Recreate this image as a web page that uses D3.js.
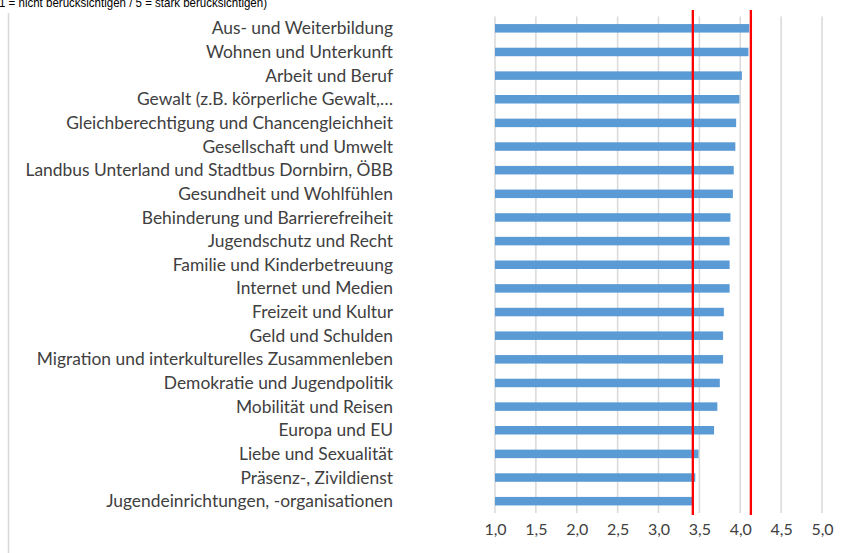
<!DOCTYPE html>
<html>
<head>
<meta charset="utf-8">
<script src="https://cdn.jsdelivr.net/npm/d3@7"></script>
<style>
  body { margin: 0; background: #fff; }
</style>
</head>
<body>
<svg id="chart" width="845" height="553"></svg>
<script>
const categories = [
  'Aus- und Weiterbildung',
  'Wohnen und Unterkunft',
  'Arbeit und Beruf',
  'Gewalt (z.B. körperliche Gewalt,…',
  'Gleichberechtigung und Chancengleichheit',
  'Gesellschaft und Umwelt',
  'Landbus Unterland und Stadtbus Dornbirn, ÖBB',
  'Gesundheit und Wohlfühlen',
  'Behinderung und Barrierefreiheit',
  'Jugendschutz und Recht',
  'Familie und Kinderbetreuung',
  'Internet und Medien',
  'Freizeit und Kultur',
  'Geld und Schulden',
  'Migration und interkulturelles Zusammenleben',
  'Demokratie und Jugendpolitik',
  'Mobilität und Reisen',
  'Europa und EU',
  'Liebe und Sexualität',
  'Präsenz-, Zivildienst',
  'Jugendeinrichtungen, -organisationen'
];
const values = [4.11, 4.10, 4.02, 3.99, 3.95, 3.94, 3.92, 3.91, 3.88, 3.87, 3.87, 3.87,
  3.80, 3.79, 3.79, 3.75, 3.72, 3.68, 3.49, 3.45, 3.41];
const refLines = [3.42, 4.13];
const ticks = [1.0, 1.5, 2.0, 2.5, 3.0, 3.5, 4.0, 4.5, 5.0];
const subtitle = '1 = nicht berücksichtigen / 5 = stark berücksichtigen)';

const svg = d3.select('#chart');
const margin = { top: 16.5, left: 495, right: 23, bottom: 40 };
const width = 845 - margin.left - margin.right;
const height = 553 - margin.top - margin.bottom;

const x = d3.scaleLinear().domain([1, 5]).range([margin.left, margin.left + width]);
const y = d3.scaleBand().domain(categories).range([margin.top, margin.top + height]).paddingInner(0.64).paddingOuter(0.32);

// subtitle, cut off at the top like in the original
svg.append('text')
  .attr('x', -1)
  .attr('y', 6.5)
  .attr('font-family', 'Liberation Sans, Arial, sans-serif')
  .attr('font-size', 13.5)
  .attr('fill', '#000')
  .attr('textLength', 268)
  .attr('lengthAdjust', 'spacingAndGlyphs')
  .text(subtitle);

// frame line at the left
svg.append('line')
  .attr('x1', 8.5).attr('x2', 8.5)
  .attr('y1', 13).attr('y2', 553)
  .attr('stroke', '#d9d9d9')
  .attr('stroke-width', 1.5);

// gridlines
svg.append('g')
  .selectAll('line')
  .data(ticks)
  .join('line')
  .attr('x1', (d) => x(d))
  .attr('x2', (d) => x(d))
  .attr('y1', margin.top)
  .attr('y2', margin.top + height)
  .attr('stroke', '#d9d9d9')
  .attr('stroke-width', 1.5);

// bars
svg.append('g')
  .selectAll('rect')
  .data(values)
  .join('rect')
  .attr('x', x(1))
  .attr('y', (d, i) => y(categories[i]))
  .attr('width', (d) => x(d) - x(1))
  .attr('height', y.bandwidth())
  .attr('fill', '#5b9bd5');

// category labels
svg.append('g')
  .selectAll('text')
  .data(categories)
  .join('text')
  .attr('x', 393)
  .attr('y', (d) => y(d) + y.bandwidth() / 2)
  .attr('dy', '0.35em')
  .attr('text-anchor', 'end')
  .attr('font-family', 'Lato, sans-serif')
  .attr('font-size', 17.4)
  .attr('fill', '#404040')
  .text((d) => d);

// x axis tick labels
const xAxis = d3.axisBottom(x)
  .tickValues(ticks)
  .tickSize(0)
  .tickPadding(0)
  .tickFormat((d) => d3.format('.1f')(d).replace('.', ','));

svg.append('g')
  .attr('transform', `translate(0,${margin.top + height + 11})`)
  .call(xAxis)
  .call((g) => g.select('.domain').remove())
  .call((g) => g.selectAll('text')
    .attr('font-family', 'Lato, sans-serif')
    .attr('font-size', 16)
    .attr('fill', '#404040'));

// red reference lines
svg.append('g')
  .selectAll('line')
  .data(refLines)
  .join('line')
  .attr('x1', (d) => x(d))
  .attr('x2', (d) => x(d))
  .attr('y1', 10)
  .attr('y2', margin.top + height + 2)
  .attr('stroke', '#ff0000')
  .attr('stroke-width', 2.3);
</script>
</body>
</html>
